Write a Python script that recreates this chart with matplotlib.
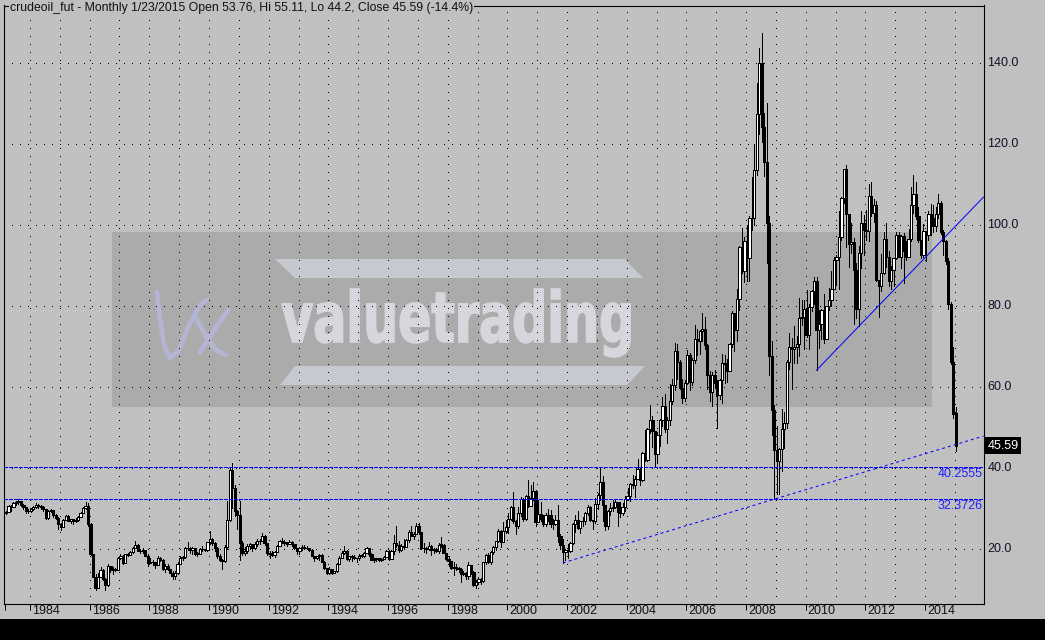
import matplotlib
matplotlib.use('Agg')
import matplotlib.pyplot as plt
from matplotlib.patches import Rectangle, Polygon, PathPatch
from matplotlib.textpath import TextPath
from matplotlib.font_manager import FontProperties
from matplotlib.transforms import Affine2D

plt.rcParams['font.family'] = ['Liberation Sans', 'DejaVu Sans']

# ---------------- data: monthly crude oil futures, Mar 1983 .. Jan 2015 ----------------
start_year, start_month = 1983, 3
first_open = 29.0
last_open = 53.76

close_prices = [
    29.3, 30.6, 30.5, 31.5, 31.7, 32.0, 31.0, 30.4, 29.4, 29.6,                    # 1983
    29.9, 30.5, 30.9, 30.6, 30.5, 29.9, 27.8, 29.4, 29.7, 28.6, 27.8, 26.4,        # 1984
    25.6, 27.3, 28.3, 27.0, 27.4, 27.0, 27.3, 28.0, 29.0, 30.3, 30.8, 26.3,        # 1985
    18.8, 13.3, 10.4, 13.3, 15.0, 12.8, 11.2, 15.9, 14.9, 15.2, 15.0, 17.9,        # 1986
    18.4, 16.6, 18.8, 18.7, 19.4, 20.3, 21.0, 19.7, 19.5, 19.9, 18.4, 16.7,        # 1987
    17.0, 16.8, 16.2, 17.9, 17.5, 15.2, 15.9, 15.2, 14.3, 13.4, 14.2, 16.3,        # 1988
    17.8, 18.1, 20.3, 20.4, 19.8, 20.3, 18.9, 19.0, 20.1, 20.0, 19.8, 21.8,        # 1989
    22.7, 21.5, 20.3, 18.5, 17.4, 17.1, 20.7, 27.2, 39.5, 35.2, 29.5, 28.4,        # 1990
    21.5, 19.2, 19.6, 20.8, 21.3, 20.3, 21.4, 22.0, 22.2, 23.3, 21.5, 19.1,        # 1991
    18.9, 18.7, 19.4, 20.9, 22.1, 21.6, 21.9, 21.4, 21.9, 21.3, 20.3, 19.5,        # 1992
    20.3, 20.6, 20.4, 20.3, 19.9, 18.4, 17.9, 18.4, 18.6, 16.9, 15.4, 14.2,        # 1993
    15.2, 14.3, 14.7, 16.4, 18.0, 19.1, 19.7, 17.6, 18.4, 18.2, 17.9, 17.8,        # 1994
    18.4, 18.5, 19.2, 20.4, 18.9, 17.4, 17.6, 17.8, 17.5, 17.6, 18.2, 19.6,        # 1995
    17.7, 19.5, 21.5, 21.2, 19.8, 20.9, 20.5, 22.3, 24.4, 23.4, 23.8, 25.9,        # 1996
    24.2, 20.3, 20.4, 20.2, 20.9, 19.8, 20.1, 19.6, 21.2, 21.1, 19.2, 17.6,        # 1997
    17.2, 15.4, 15.6, 15.4, 15.2, 14.0, 14.2, 13.4, 16.1, 14.4, 11.2, 12.1,        # 1998
    12.8, 12.3, 16.8, 18.7, 16.8, 19.3, 20.5, 22.1, 24.5, 21.8, 24.6, 25.6,        # 1999
    27.6, 30.4, 26.9, 25.7, 29.0, 32.5, 27.4, 33.1, 30.8, 32.7, 34.4, 26.8,        # 2000
    28.7, 27.4, 26.3, 28.5, 28.4, 26.3, 26.4, 27.2, 23.4, 21.2, 19.4, 19.8,        # 2001
    19.5, 21.7, 26.3, 27.3, 25.3, 26.9, 27.0, 28.9, 30.5, 27.2, 26.9, 31.2,        # 2002
    33.5, 36.6, 31.0, 25.8, 29.6, 30.2, 30.5, 31.6, 29.2, 29.1, 30.4, 32.5,        # 2003
    33.1, 36.2, 35.8, 37.4, 39.9, 37.1, 43.8, 42.1, 49.6, 51.8, 49.1, 43.5,        # 2004
    48.2, 51.8, 55.4, 49.7, 52.0, 56.5, 60.6, 68.9, 66.2, 59.8, 57.3, 61.0,        # 2005
    67.9, 61.4, 66.6, 71.9, 71.3, 73.9, 74.4, 70.3, 62.9, 58.7, 63.1, 61.1,        # 2006
    58.1, 61.8, 65.9, 65.7, 64.0, 70.7, 78.2, 74.0, 81.7, 94.5, 88.7, 96.0,        # 2007
    91.8, 101.8, 101.6, 113.5, 127.4, 140.0, 124.1, 115.5, 100.6, 67.8, 54.4, 44.6,  # 2008
    41.7, 44.8, 49.7, 51.1, 66.3, 69.9, 69.5, 70.0, 70.6, 77.0, 77.3, 79.4,        # 2009
    72.9, 79.7, 83.8, 86.2, 74.0, 75.6, 79.0, 71.9, 80.0, 81.4, 84.1, 91.4,        # 2010
    92.2, 97.0, 106.7, 113.9, 102.7, 95.4, 95.7, 88.8, 79.2, 93.2, 100.4, 98.8,    # 2011
    98.5, 107.1, 103.0, 104.9, 86.5, 85.0, 88.1, 96.5, 92.2, 86.2, 88.9, 91.8,     # 2012
    97.5, 92.1, 97.2, 93.5, 92.0, 96.6, 105.0, 107.7, 102.3, 96.4, 92.7, 98.4,     # 2013
    97.5, 102.6, 101.6, 99.7, 102.7, 105.4, 98.2, 96.0, 91.2, 80.5, 66.2, 53.3,    # 2014
    45.59,                                                                          # 2015
]

high_prices = [
    29.6, 31.0, 30.9, 31.8, 32.0, 32.4, 32.0, 31.1, 30.5, 29.9,
    30.3, 30.8, 31.4, 31.3, 30.9, 30.6, 29.9, 29.7, 30.0, 29.8, 28.8, 27.9,
    26.6, 27.6, 28.6, 28.4, 27.6, 27.5, 27.7, 28.3, 29.3, 30.5, 31.8, 31.4,
    26.5, 19.0, 14.0, 14.3, 15.8, 15.2, 13.0, 16.3, 16.0, 15.6, 15.4, 18.2,
    19.0, 18.6, 18.9, 19.2, 19.7, 20.5, 22.2, 21.4, 20.0, 20.3, 19.9, 19.0,
    18.0, 17.3, 16.9, 18.4, 18.2, 17.6, 16.3, 16.4, 15.3, 14.6, 14.8, 17.0,
    18.3, 18.5, 20.6, 21.9, 20.6, 20.6, 20.4, 19.3, 20.3, 20.9, 20.2, 21.9,
    24.6, 22.8, 21.8, 20.5, 19.0, 17.6, 21.0, 31.9, 40.0, 41.2, 35.9, 29.8,
    32.0, 22.0, 20.5, 21.3, 21.7, 21.3, 21.8, 22.6, 22.5, 24.0, 23.6, 21.5,
    19.5, 19.5, 19.6, 21.2, 22.3, 22.9, 22.4, 21.9, 22.4, 22.2, 21.3, 20.3,
    20.6, 21.1, 21.0, 20.8, 20.4, 20.0, 18.4, 18.5, 18.9, 18.9, 17.1, 15.5,
    15.7, 15.3, 14.8, 16.7, 18.3, 19.7, 20.8, 19.9, 18.5, 18.7, 18.7, 17.9,
    18.8, 18.8, 19.3, 20.7, 20.4, 19.2, 17.9, 18.0, 18.0, 17.9, 18.4, 19.8,
    19.8, 19.9, 23.5, 25.9, 22.0, 21.3, 22.7, 22.6, 24.8, 25.9, 24.4, 26.6,
    26.6, 24.4, 21.6, 20.6, 21.8, 21.1, 20.4, 20.4, 21.5, 23.0, 21.4, 19.1,
    18.4, 17.0, 16.8, 16.5, 15.8, 15.4, 14.8, 14.4, 16.9, 16.0, 14.6, 12.4,
    13.2, 13.0, 16.9, 18.9, 19.2, 19.5, 20.8, 22.2, 25.0, 24.8, 26.8, 27.2,
    29.0, 30.6, 34.1, 27.2, 30.5, 33.0, 32.6, 33.4, 37.2, 35.9, 36.6, 34.6,
    32.2, 31.6, 28.6, 28.9, 29.9, 29.7, 27.4, 28.6, 31.0, 23.9, 22.6, 20.2,
    21.3, 21.9, 26.6, 28.4, 29.4, 27.0, 28.0, 29.2, 31.0, 30.8, 27.3, 32.7,
    34.0, 40.0, 38.1, 31.0, 29.7, 31.4, 32.2, 32.5, 31.8, 31.8, 31.5, 33.1,
    35.2, 36.4, 38.4, 38.2, 42.3, 40.3, 44.1, 49.4, 49.9, 55.7, 53.0, 46.3,
    49.0, 52.1, 57.7, 58.3, 52.6, 60.9, 62.1, 70.9, 70.6, 66.7, 62.1, 61.8,
    69.2, 68.5, 67.3, 75.4, 74.3, 74.0, 78.4, 77.2, 70.6, 63.9, 63.7, 64.3,
    61.8, 62.0, 68.1, 67.9, 66.9, 70.9, 78.8, 78.4, 84.1, 94.7, 99.3, 97.0,
    100.1, 102.1, 111.8, 119.9, 135.1, 143.7, 147.3, 127.7, 130.0, 102.2, 71.3, 55.7,
    50.5, 44.9, 54.7, 54.0, 66.6, 73.4, 72.1, 75.0, 72.6, 82.0, 81.5, 81.4,
    84.0, 80.6, 83.9, 87.2, 87.1, 79.0, 79.4, 82.9, 80.1, 84.4, 88.6, 92.1,
    92.6, 103.4, 107.0, 113.9, 114.8, 102.5, 100.6, 96.9, 90.5, 94.7, 103.4, 102.4,
    103.7, 110.0, 110.6, 106.3, 106.0, 86.4, 92.9, 98.3, 100.4, 93.6, 90.0, 91.9,
    98.2, 98.2, 97.4, 97.9, 96.1, 99.0, 109.3, 112.2, 110.7, 104.4, 95.8, 100.3,
    98.3, 103.4, 105.2, 105.0, 104.5, 107.7, 106.0, 98.7, 96.3, 91.9, 80.9, 69.9,
    55.11,
]

low_prices = [
    28.7, 29.2, 29.5, 30.4, 31.0, 31.3, 30.6, 29.9, 29.1, 28.9,
    29.3, 29.7, 30.2, 30.2, 30.0, 29.6, 27.6, 27.6, 29.2, 28.1, 27.6, 25.0,
    24.9, 25.6, 27.2, 26.9, 26.6, 26.3, 26.7, 27.1, 27.9, 28.9, 30.0, 25.8,
    18.6, 13.1, 10.0, 10.4, 13.2, 12.5, 10.0, 10.9, 14.5, 14.0, 14.6, 14.9,
    17.7, 16.3, 16.6, 18.3, 18.7, 19.2, 20.3, 19.5, 19.2, 19.2, 18.3, 15.9,
    16.6, 16.2, 15.5, 16.2, 17.2, 15.0, 14.5, 15.0, 14.1, 12.6, 12.8, 14.0,
    16.3, 17.4, 18.0, 19.8, 19.1, 18.9, 18.6, 18.3, 18.9, 19.6, 19.5, 19.7,
    21.4, 21.2, 19.7, 17.9, 17.1, 15.1, 16.8, 20.0, 26.9, 30.1, 28.3, 25.0,
    17.5, 18.6, 18.7, 19.1, 20.2, 19.6, 20.2, 20.9, 21.3, 22.1, 21.2, 18.6,
    17.9, 18.3, 18.2, 19.3, 20.8, 21.5, 21.0, 20.9, 21.3, 20.9, 20.0, 19.0,
    18.8, 19.9, 20.0, 20.0, 19.6, 18.3, 17.1, 17.6, 17.4, 16.8, 15.3, 13.9,
    14.0, 13.9, 14.1, 14.5, 16.3, 17.9, 19.0, 17.3, 17.2, 17.2, 17.6, 16.9,
    17.5, 18.2, 18.1, 19.1, 18.5, 17.3, 16.9, 17.2, 17.2, 17.1, 17.6, 18.2,
    17.4, 17.7, 18.8, 20.7, 19.3, 19.5, 20.3, 20.5, 21.8, 23.2, 22.5, 23.7,
    23.8, 20.2, 19.4, 19.2, 19.8, 18.6, 19.1, 19.3, 19.2, 20.5, 19.1, 17.4,
    16.0, 15.3, 13.6, 14.9, 14.5, 12.0, 13.6, 12.7, 12.8, 13.9, 10.9, 10.4,
    11.6, 11.5, 12.1, 16.3, 16.6, 16.5, 19.0, 19.9, 21.8, 20.6, 21.8, 24.1,
    24.0, 27.2, 26.5, 23.9, 25.3, 28.3, 27.0, 27.3, 30.5, 30.6, 32.2, 25.8,
    26.8, 27.0, 25.9, 25.7, 27.0, 25.5, 25.1, 26.1, 21.8, 20.0, 16.7, 17.5,
    17.9, 19.4, 21.4, 24.4, 25.0, 24.0, 25.7, 26.2, 28.5, 26.9, 25.1, 26.5,
    30.0, 32.2, 26.9, 24.8, 25.1, 28.4, 29.4, 30.3, 25.9, 28.1, 28.5, 29.6,
    32.2, 32.0, 35.1, 33.0, 37.3, 36.0, 36.8, 41.8, 41.8, 48.7, 45.3, 40.3,
    41.3, 45.4, 50.4, 48.9, 46.2, 50.8, 55.9, 59.3, 62.1, 59.6, 56.1, 56.6,
    60.7, 59.2, 60.5, 65.9, 67.9, 68.3, 71.3, 69.5, 59.5, 56.6, 55.3, 59.8,
    49.9, 57.1, 56.0, 61.1, 61.3, 64.0, 69.9, 69.0, 71.5, 79.1, 88.2, 85.9,
    86.1, 86.1, 98.7, 100.1, 112.4, 122.4, 120.4, 112.0, 90.5, 63.0, 48.2, 32.4,
    33.6, 33.6, 39.4, 45.1, 50.0, 64.6, 59.6, 66.0, 65.9, 67.7, 75.3, 69.5,
    72.4, 69.5, 78.7, 80.5, 64.2, 69.6, 71.8, 70.8, 72.6, 79.0, 80.0, 84.1,
    85.1, 84.1, 96.3, 105.5, 94.6, 89.6, 93.1, 75.7, 77.1, 75.0, 89.5, 92.5,
    96.2, 96.0, 102.2, 100.7, 86.2, 77.3, 83.7, 87.8, 89.6, 84.9, 84.1, 85.0,
    91.5, 92.0, 89.3, 85.6, 91.4, 92.3, 96.1, 103.0, 101.5, 95.7, 91.8, 92.1,
    91.2, 96.2, 97.4, 98.3, 98.6, 101.6, 97.8, 92.5, 90.4, 79.4, 65.7, 52.4,
    44.2,
]

level_lines = [40.2555, 32.3726]
support_months = [(2001, 11), (2008, 12)]     # dashed support through these lows
uptrend_months = [(2010, 5), (2011, 10)]      # solid trend line through these lows
y_ticks = [20, 40, 60, 80, 100, 120, 140]
x_label_years = list(range(1984, 2015, 2))
last_close = 45.59
title = 'crudeoil_fut - Monthly 1/23/2015 Open 53.76, Hi 55.11, Lo 44.2, Close 45.59 (-14.4%)'

# ---------------- build OHLC ----------------
opens = [first_open] + close_prices[:-1]
opens[-1] = last_open
xs, months = [], []
yr, mo = start_year, start_month
for _ in close_prices:
    xs.append(yr + (mo - 1) / 12 + 0.03)
    months.append((yr, mo))
    mo += 1
    if mo > 12:
        mo = 1
        yr += 1
highs = [max(h, o, c) for h, o, c in zip(high_prices, opens, close_prices)]
lows = [min(l, o, c) for l, o, c in zip(low_prices, opens, close_prices)]

# ---------------- figure ----------------
W, H = 1045, 640
BG = '#c0c0c0'
fig = plt.figure(figsize=(W / 100, H / 100), dpi=100, facecolor=BG)
ax = fig.add_axes([3.5 / W, 1 - 603.5 / H, 980 / W, 598 / H])
ax.set_facecolor('none')
X0, X1 = 1983.112, 2015.96
ax.set_xlim(X0, X1)
ax.set_ylim(6.68, 154.1)


def fxy(px, py):
    return px / W, 1 - py / H


# watermark
ax.add_patch(Rectangle(fxy(112, 407), 820 / W, 175 / H, transform=fig.transFigure,
                       facecolor='#ababab', edgecolor='none', zorder=0.2))
ax.add_patch(Polygon([fxy(275, 259), fxy(625, 259), fxy(643, 278), fxy(295, 278)],
                     transform=fig.transFigure, facecolor='#c6cad0', edgecolor='none', zorder=0.3))
ax.add_patch(Polygon([fxy(295, 366), fxy(645, 366), fxy(627, 385), fxy(280, 385)],
                     transform=fig.transFigure, facecolor='#c6cad0', edgecolor='none', zorder=0.3))
tp = TextPath((0, 0), 'valuetrading', size=100, prop=FontProperties(family='DejaVu Sans', weight='bold'))
bb = tp.get_extents()
tx0, tx1, ty0, ty1 = 282, 630, 357, 289
trans = (Affine2D().translate(-bb.x0, -bb.y0)
         .scale((tx1 - tx0) / W / bb.width, (ty0 - ty1) / H / bb.height)
         .translate(tx0 / W, 1 - ty0 / H))
ax.add_patch(PathPatch(tp, transform=trans + fig.transFigure, facecolor='#d6d6dd',
                       edgecolor='#d6d6dd', linewidth=1.2, zorder=0.3))
logo_a = [(157, 292), (160, 318), (164, 345), (170, 358), (178, 352), (189, 325), (200, 305), (207, 300)]
logo_b = [(196, 318), (207, 338), (216, 350), (226, 355)]
logo_c = [(200, 352), (214, 330), (228, 310)]
for pts in (logo_a, logo_b, logo_c):
    ax.plot([fxy(*p)[0] for p in pts], [fxy(*p)[1] for p in pts], transform=fig.transFigure,
            color='#b4b4d4', lw=3.4, solid_capstyle='round', zorder=0.3)

# dotted grid
dot = (0, (1, 7))
for g in range(1984, 2016):
    ax.axvline(g, color='black', lw=0.72, ls=dot, antialiased=False, zorder=0.5)
for v in y_ticks:
    ax.axhline(v, color='black', lw=0.72, ls=dot, antialiased=False, zorder=0.5)

# candles
ax.vlines(xs, lows, highs, colors='black', lw=0.72, antialiased=False, zorder=2)
bottoms = [min(o, c) for o, c in zip(opens, close_prices)]
heights = [max(abs(c - o), 0.15) for o, c in zip(opens, close_prices)]
fills = ['white' if c >= o else 'black' for o, c in zip(opens, close_prices)]
ax.bar(xs, heights, bottom=bottoms, width=0.075, color=fills, edgecolor='black',
       linewidth=0.72, antialiased=False, zorder=3)

# horizontal levels
for lv in level_lines:
    ax.axhline(lv, color='#0000ff', lw=0.72, ls=(0, (3, 2)), antialiased=False, zorder=4)
    ax.annotate(f'{lv:.4f}', xy=(1, lv), xycoords=('axes fraction', 'data'),
                xytext=(-1, -7), textcoords='offset pixels', ha='right', va='center',
                color='#2020ff', fontsize=9)


# trend lines through chosen lows, extended to the right edge
def trend(pair):
    i0, i1 = months.index(pair[0]), months.index(pair[1])
    slope = (lows[i1] - lows[i0]) / (xs[i1] - xs[i0])
    return [xs[i0], X1], [lows[i0], lows[i0] + slope * (X1 - xs[i0])]


sx, sy = trend(support_months)
ax.plot(sx, sy, color='#0000ff', lw=0.72, ls=(0, (3, 3)), zorder=4)
ux, uy = trend(uptrend_months)
ax.plot(ux, uy, color='#0000ff', lw=0.72, zorder=4)

# axes frame and ticks
for s in ax.spines.values():
    s.set_color('black')
    s.set_linewidth(0.8)
ax.set_yticks([])
ax.set_xticks([1983.17] + x_label_years)
ax.tick_params(axis='x', length=4, width=0.72, color='black', direction='out', labelbottom=False)
for y_ in x_label_years:
    ax.annotate(str(y_), xy=(y_, 0), xycoords=('data', 'axes fraction'), xytext=(2, -1),
                textcoords='offset pixels', ha='left', va='top', fontsize=9, color='#101010')
for v in y_ticks:
    ax.annotate(f'{v:.1f}', xy=(1, v), xycoords=('axes fraction', 'data'), xytext=(4, 0),
                textcoords='offset pixels', ha='left', va='center', fontsize=9, color='#101028')
ax.annotate(f'{last_close:.2f}', xy=(1, last_close), xycoords=('axes fraction', 'data'),
            xytext=(4, 0), textcoords='offset pixels', ha='left', va='center', fontsize=9,
            color='white', bbox=dict(boxstyle='square,pad=0.2', fc='black', ec='none'))

fig.text(10 / W, 1 - 7.5 / H, title, fontsize=8.8, ha='left', va='center', color='#101010',
         bbox=dict(boxstyle='square,pad=0.1', fc=BG, ec='none'), zorder=5)
fig.add_artist(Rectangle((0, 0), 1, 21 / H, transform=fig.transFigure, facecolor='black',
                         edgecolor='none'))

fig.savefig('out.png', dpi=100, facecolor=BG)
